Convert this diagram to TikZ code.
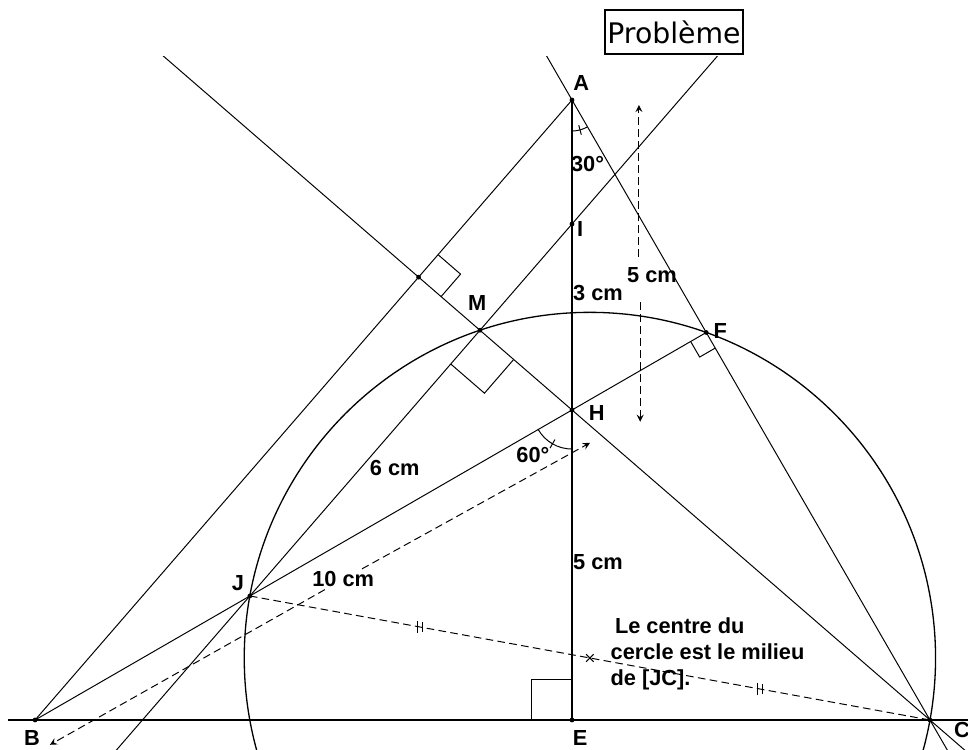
\documentclass[tikz,border=0pt]{standalone}
\usepackage{fontspec}
\setmainfont{Liberation Sans}
\newfontfamily\titlefont{DejaVu Sans}
\usepackage{tikz}
\usetikzlibrary{calc}

\tikzset{
  lbl/.style={font=\fontsize{10}{11.9}\selectfont\bfseries, inner sep=1pt},
  dim/.style={dashed, dash pattern=on 3.5pt off 2pt, ->},
  rmark/.style={line width=0.45pt}
}

\begin{document}
\begin{tikzpicture}[line width=0.45pt, >=stealth]
\useasboundingbox (-9.226,-0.468) rectangle (6.387,11.613);
% points de la figure
\coordinate (E) at (0,0);
\coordinate (H) at (0,5);
\coordinate (I) at (0,8);
\coordinate (A) at (0,10);
\coordinate (B) at ({-10*cos(30)},0);
\coordinate (C) at ({10*tan(30)},0);
\coordinate (J) at ($(H)!6cm!(B)$);
\coordinate (F) at ($(A)!(H)!(C)$);
\coordinate (K) at ($(B)!(H)!(A)$);
\coordinate (M) at (intersection of I--J and C--H);
\coordinate (O) at ($(J)!0.5!(C)$);
\coordinate (P1) at ($(J)!0.5!(O)$);
\coordinate (P2) at ($(O)!0.5!(C)$);
\coordinate (L0) at (-9.1,0);
\coordinate (R0) at (6.5,0);

% droites
\draw[line width=0.9pt] (L0) -- (R0);
\draw[line width=0.9pt] (A) -- (E);
\draw (B) -- (A);
\draw (B) -- (F);
\begin{scope}
  \clip (-9.226,-0.468) rectangle (6.387,10.694);
  \draw ($(C)!-0.2!(H)$) -- ($(C)!2.3!(H)$);
  \draw ($(A)!-0.1!(C)$) -- ($(A)!1.1!(C)$);
  \draw ($(I)!-0.5!(J)$) -- ($(I)!1.5!(J)$);
  \draw[line width=0.6pt] let \p1=($(C)-(O)$), \n1={veclen(\x1,\y1)} in (O) circle (\n1);
\end{scope}

% diametre [JC] et milieu
\draw[dashed, dash pattern=on 3.5pt off 2pt] (J) -- (C);
\foreach \q in {P1,P2} {
  \draw ($(\q)+(-0.035,-0.1)$) -- ($(\q)+(-0.035,0.1)$);
  \draw ($(\q)+(0.035,-0.08)$) -- ($(\q)+(0.035,0.08)$);
}
\draw ($(O)+(-0.06,-0.06)$) -- ($(O)+(0.06,0.06)$);
\draw ($(O)+(-0.06,0.06)$) -- ($(O)+(0.06,-0.06)$);

% angles droits
\draw[rmark] ($(E)+(-0.65,0)$) -- ++(0,0.65) -- ($(E)+(0,0.65)$);
\draw[rmark, shift={(K)}, rotate=49.1] (0.48,0) -- (0.48,-0.48) -- (0,-0.48);
\draw[rmark, shift={(M)}, rotate=229.1] (0.72,0) -- (0.72,0.72) -- (0,0.72);
\draw[rmark, shift={(F)}, rotate=210] (0.29,0) -- (0.29,0.29) -- (0,0.29);

% angles 30 et 60
\draw (A) ++(270:0.5) arc[start angle=270, end angle=300, radius=0.5];
\draw ($(A)+(285:0.42)$) -- ($(A)+(285:0.58)$);
\draw (H) ++(210:0.63) arc[start angle=210, end angle=270, radius=0.63];
\draw ($(H)+(240:0.55)$) -- ($(H)+(240:0.71)$);

% cotes
\coordinate (v1) at (1.08,9.92);
\coordinate (v1g) at (1.08,7.47);
\coordinate (v2) at (1.10,4.81);
\coordinate (v2g) at (1.10,6.74);
\draw[dim] (v1g) -- (v1);
\draw[dim] (v2g) -- (v2);
\coordinate (d1) at (-8.42,-0.40);
\coordinate (d2) at (0.29,4.47);
\node[lbl] (l10) at (-3.69,2.27) {10 cm};
\draw[dim] (l10) -- (d1);
\draw[dim] (l10) -- (d2);

% points
\foreach \p in {A,I,M,H,F,J,B,E,C,K}
  \fill (\p) circle[radius=1.1pt];

% etiquettes
\node[lbl] (lA) at (0.15,10.27) {A};
\node[lbl] (lI) at (0.13,7.92) {I};
\node[lbl] (l30) at (0.25,8.97) {30°};
\node[lbl] (l3) at (0.42,6.89) {3 cm};
\node[lbl] (l5a) at (1.29,7.18) {5 cm};
\node[lbl] (lM) at (-1.53,6.73) {M};
\node[lbl] (lF) at (2.39,6.27) {F};
\node[lbl] (lH) at (0.40,4.95) {H};
\node[lbl] (l60) at (-0.63,4.27) {60°};
\node[lbl] (l6) at (-2.86,4.07) {6 cm};
\node[lbl] (lJ) at (-5.39,2.21) {J};
\node[lbl] (l5b) at (0.42,2.55) {5 cm};
\node[lbl] (lE) at (0.13,-0.29) {E};
\node[lbl] (lB) at (-8.71,-0.29) {B};
\node[lbl] (lC) at (6.29,-0.16) {C};
\node[lbl, anchor=west, align=left] (note) at (0.58,1.065)
  {\hspace{2pt}Le centre du\\cercle est le milieu\\de [JC].};
\node[draw, line width=0.9pt, inner sep=0pt, minimum width=2.22cm, minimum height=0.72cm,
  font=\titlefont\fontsize{13}{15}\selectfont] (titre) at (1.645,11.097) {Problème};
\end{tikzpicture}
\end{document}
